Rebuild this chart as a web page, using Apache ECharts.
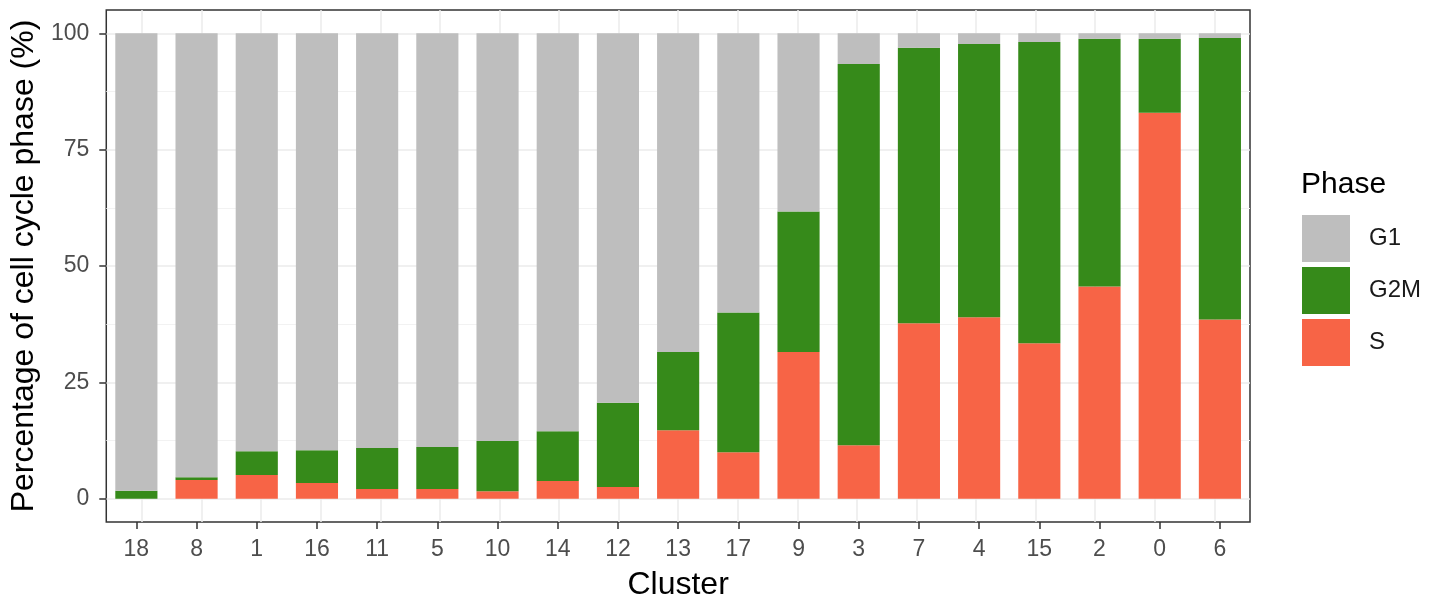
<!DOCTYPE html>
<html>
<head>
<meta charset="utf-8">
<script src="https://cdn.jsdelivr.net/npm/echarts@6/dist/echarts.min.js"></script>
<style>
  html, body { margin: 0; padding: 0; background: #fff; }
  #chart { width: 1429px; height: 608px; }
</style>
</head>
<body>
<div id="chart"></div>
<script>
const clusters = ["18", "8", "1", "16", "11", "5", "10", "14", "12", "13", "17", "9", "3", "7", "4", "15", "2", "0", "6"];
const sPct = [0, 4.0, 5.1, 3.4, 2.1, 2.1, 1.6, 3.8, 2.5, 14.7, 10.0, 31.5, 11.5, 37.7, 39.0, 33.4, 45.6, 82.9, 38.5];
const g2mPct = [1.7, 0.6, 5.1, 7.0, 8.8, 9.0, 10.8, 10.7, 18.1, 16.8, 30.0, 30.2, 81.9, 59.2, 58.7, 64.7, 53.2, 15.9, 60.5];
const g1Pct = [98.3, 95.4, 89.8, 89.6, 89.1, 88.9, 87.6, 85.5, 79.4, 68.5, 60.0, 38.3, 6.6, 3.1, 2.3, 1.9, 1.2, 1.2, 1.0];
const yTicks = [0, 25, 50, 75, 100];
const yMinor = [12.5, 37.5, 62.5, 87.5];

const font = "'Liberation Sans', Arial, sans-serif";
const gridColor = "#ebebeb";
const chart = echarts.init(document.getElementById("chart"));

const barSeries = (name, data, color) => ({
  name: name,
  type: "bar",
  stack: "phase",
  data: data,
  barWidth: "70%",
  xAxisIndex: 0,
  yAxisIndex: 0,
  itemStyle: { color: color },
});

chart.setOption({
  animation: false,
  textStyle: { fontFamily: font },
  title: {
    text: "Phase",
    left: 1296,
    top: 165,
    textStyle: { fontSize: 30, fontWeight: "normal", color: "#000", fontFamily: font },
  },
  legend: {
    orient: "vertical",
    left: 1302,
    top: 215,
    padding: 0,
    itemWidth: 48,
    itemHeight: 47,
    itemGap: 5,
    icon: "rect",
    data: ["G1", "G2M", "S"],
    textStyle: { fontSize: 24, color: "#1a1a1a", padding: [6, 0, 0, 14] },
  },
  grid: {
    left: 106,
    right: 179,
    top: 10,
    bottom: 86,
    show: true,
    borderColor: "#333333",
    borderWidth: 1.5,
    backgroundColor: "transparent",
  },
  xAxis: [
    {
      type: "category",
      data: clusters,
      axisLine: { show: false, onZero: false },
      axisTick: { show: true, alignWithLabel: true, length: 7, lineStyle: { color: "#333", width: 1.5 } },
      axisLabel: { fontSize: 23, color: "#4d4d4d", margin: 16 },
      splitLine: { show: false },
      name: "Cluster",
      nameLocation: "middle",
      nameGap: 47,
      nameTextStyle: { fontSize: 32, color: "#000" },
    },
    {
      type: "value",
      min: -0.6,
      max: 18.6,
      axisLine: { show: false, onZero: false },
      axisTick: { show: false, customValues: clusters.map((c, i) => i) },
      axisLabel: { show: false },
      splitLine: { show: true, lineStyle: { color: gridColor, width: 1.5 } },
    },
  ],
  yAxis: [
    {
      type: "value",
      min: -5,
      max: 105,
      axisLine: { show: false, onZero: false },
      axisTick: { show: true, length: 7, customValues: yTicks, lineStyle: { color: "#333", width: 1.5 } },
      axisLabel: { fontSize: 23, color: "#4d4d4d", margin: 17, customValues: yTicks },
      splitLine: { show: true, lineStyle: { color: gridColor, width: 1.5 } },
      name: "Percentage of cell cycle phase (%)",
      nameLocation: "middle",
      nameGap: 66,
      nameTextStyle: { fontSize: 32, color: "#000" },
    },
    {
      type: "value",
      min: -5,
      max: 105,
      axisLine: { show: false, onZero: false },
      axisTick: { show: false, customValues: yMinor },
      axisLabel: { show: false },
      splitLine: { show: true, lineStyle: { color: "#f2f2f2", width: 1 } },
    },
  ],
  series: [
    barSeries("S", sPct, "#f76446"),
    barSeries("G2M", g2mPct, "#368a1a"),
    barSeries("G1", g1Pct, "#bebebe"),
  ],
});
</script>
</body>
</html>
